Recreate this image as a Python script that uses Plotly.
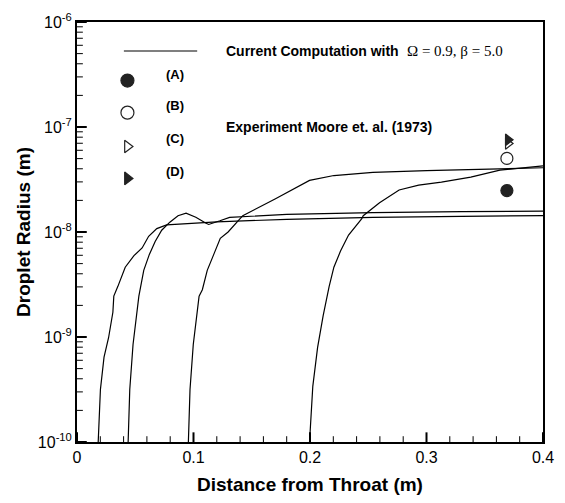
import plotly.graph_objects as go

# Computed droplet radius along the nozzle for four cases (A)-(D)
a_x = [0.0182, 0.0201, 0.0232, 0.0271, 0.0308, 0.0316, 0.035, 0.0414, 0.0489, 0.0559, 0.0615, 0.0685, 0.0769, 0.12, 0.18, 0.254, 0.33, 0.4]
a_r = [1e-10, 3.16e-10, 6.44e-10, 9.84e-10, 1.72e-9, 2.45e-9, 3.02e-9, 4.62e-9, 5.95e-9, 7.05e-9, 9.10e-9, 1.077e-8, 1.17e-8, 1.25e-8, 1.32e-8, 1.38e-8, 1.41e-8, 1.43e-8]

b_x = [0.0439, 0.0453, 0.0481, 0.0509, 0.0531, 0.0573, 0.0621, 0.0671, 0.0727, 0.0797, 0.0867, 0.0936, 0.102, 0.1104, 0.113, 0.1227, 0.131, 0.18, 0.254, 0.33, 0.4]
b_r = [1e-10, 3.16e-10, 8.49e-10, 1.60e-9, 2.45e-9, 4.31e-9, 6.12e-9, 8.13e-9, 1.04e-8, 1.24e-8, 1.43e-8, 1.51e-8, 1.38e-8, 1.22e-8, 1.18e-8, 1.28e-8, 1.38e-8, 1.47e-8, 1.53e-8, 1.56e-8, 1.58e-8]

c_x = [0.0956, 0.097, 0.0998, 0.1029, 0.1048, 0.1076, 0.1118, 0.1174, 0.123, 0.1297, 0.1423, 0.170, 0.1996, 0.2205, 0.254, 0.30, 0.363, 0.4]
c_r = [1e-10, 3.16e-10, 8.49e-10, 1.60e-9, 2.45e-9, 2.82e-9, 4.31e-9, 6.12e-9, 8.71e-9, 1.00e-8, 1.43e-8, 2.06e-8, 3.10e-8, 3.45e-8, 3.70e-8, 3.85e-8, 3.98e-8, 4.09e-8]

d_x = [0.1996, 0.2024, 0.2065, 0.2113, 0.2164, 0.2205, 0.2262, 0.2331, 0.2443, 0.2457, 0.2597, 0.2765, 0.2933, 0.3128, 0.338, 0.363, 0.4]
d_r = [1e-10, 3.39e-10, 7.91e-10, 1.60e-9, 3.02e-9, 4.62e-9, 6.58e-9, 9.35e-9, 1.33e-8, 1.43e-8, 1.90e-8, 2.51e-8, 2.79e-8, 2.99e-8, 3.33e-8, 3.89e-8, 4.26e-8]

# Measured values, Moore et al. (1973)
exp_x = [0.369, 0.369, 0.370, 0.370]
exp_r = [2.48e-8, 5.02e-8, 6.98e-8, 7.55e-8]
exp_symbols = ["circle", "circle-open", "triangle-right-open", "triangle-right"]
exp_sizes = [12, 12, 10, 10]

curve_names = ["(A)", "(B)", "(C)", "(D)"]
curve_label_x = [0.0277, 0.0755, 0.120, 0.2273]
curve_label_r = [5.47e-9, 4.15e-9, 2.5e-9, 1.22e-9]

# Key symbols sit in the upper-left corner of the axes
key_x = 0.0433
key_r = [2.77e-7, 1.37e-7, 6.52e-8, 3.24e-8]

x_ticks = [0, 0.1, 0.2, 0.3, 0.4]
x_tick_text = ["0", "0.1", "0.2", "0.3", "0.4"]
x_minor = [0.02, 0.04, 0.06, 0.08, 0.12, 0.14, 0.16, 0.18, 0.22, 0.24, 0.26, 0.28,
           0.32, 0.34, 0.36, 0.38]
y_exponents = [-10, -9, -8, -7, -6]
y_major = [10.0 ** e for e in y_exponents]
y_minor = [m * 10.0 ** e for e in y_exponents[:-1] for m in range(2, 10)]

# Axis ranges and plot-area size, used to turn tick lengths in pixels into data units
X_RANGE = (0.0, 0.4)
LOGY_RANGE = (-10, -6)
WIDTH, HEIGHT = 565, 503
MARGIN = dict(l=77, r=11, t=16, b=52)
plot_w = WIDTH - MARGIN["l"] - MARGIN["r"]
plot_h = HEIGHT - MARGIN["t"] - MARGIN["b"]


def x_len(px):
    return px * (X_RANGE[1] - X_RANGE[0]) / plot_w


def y_up(px):
    return 10.0 ** (LOGY_RANGE[0] + px * (LOGY_RANGE[1] - LOGY_RANGE[0]) / plot_h)


ink = "#222222"
fig = go.Figure()

for xs, rs in [(a_x, a_r), (b_x, b_r), (c_x, c_r), (d_x, d_r)]:
    fig.add_trace(go.Scatter(x=xs, y=rs, mode="lines", line=dict(color="black", width=1.2),
                             showlegend=False, hoverinfo="skip"))

for xv, rv, sym, sz in zip(exp_x, exp_r, exp_symbols, exp_sizes):
    fig.add_trace(go.Scatter(x=[xv], y=[rv], mode="markers", showlegend=False,
                             marker=dict(symbol=sym, size=sz, color=ink,
                                         line=dict(color=ink, width=1.2))))

for kr, sym, sz in zip(key_r, exp_symbols, exp_sizes):
    fig.add_trace(go.Scatter(x=[key_x], y=[kr], mode="markers", showlegend=False,
                             hoverinfo="skip",
                             marker=dict(symbol=sym, size=sz + 1, color=ink,
                                         line=dict(color=ink, width=1.2))))


# Inward tick marks along the bottom and left axes
def bottom_ticks(values, length_px, width):
    xs, ys = [], []
    for v in values:
        xs += [v, v, None]
        ys += [y_major[0], y_up(length_px), None]
    fig.add_trace(go.Scatter(x=xs, y=ys, mode="lines", showlegend=False, hoverinfo="skip",
                             line=dict(color="black", width=width)))


def left_ticks(values, length_px, width):
    xs, ys = [], []
    for v in values:
        xs += [X_RANGE[0], X_RANGE[0] + x_len(length_px), None]
        ys += [v, v, None]
    fig.add_trace(go.Scatter(x=xs, y=ys, mode="lines", showlegend=False, hoverinfo="skip",
                             line=dict(color="black", width=width)))


bottom_ticks(x_minor, 6, 1)
bottom_ticks(x_ticks, 10, 2)
left_ticks(y_minor, 6, 1)
left_ticks(y_major, 10, 2)

shapes = [dict(type="line", xref="paper", yref="paper", x0=0.1006, x1=0.2579, y0=0.931, y1=0.931,
               line=dict(color="black", width=1.2))]

sans = "Liberation Sans, Arial"
annotations = [
    dict(x=0.316, y=0.931, xref="paper", yref="paper", xanchor="left", yanchor="middle",
         text="<b>Current Computation with</b>", showarrow=False,
         font=dict(family=sans, size=14, color="black")),
    dict(x=0.703, y=0.931, xref="paper", yref="paper", xanchor="left", yanchor="middle",
         text="Ω = 0.9, β = 5.0", showarrow=False,
         font=dict(family="Liberation Serif, Times New Roman", size=15, color="black")),
    dict(x=0.316, y=0.749, xref="paper", yref="paper", xanchor="left", yanchor="middle",
         text="<b>Experiment Moore et. al. (1973)</b>", showarrow=False,
         font=dict(family=sans, size=14, color="black")),
]
key_label_y = [0.874, 0.800, 0.722, 0.644]
for name, ly in zip(curve_names, key_label_y):
    annotations.append(dict(x=0.210, y=ly, xref="paper", yref="paper", xanchor="center",
                            yanchor="middle", text="<b>" + name + "</b>", showarrow=False,
                            font=dict(family=sans, size=13, color="black")))
for name, lx, lr in zip(curve_names, curve_label_x, curve_label_r):
    annotations.append(dict(x=lx, y=lr, xref="x", yref="y", xanchor="center", yanchor="middle",
                            text="<b>" + name + "</b>", showarrow=False,
                            font=dict(family=sans, size=13, color="black")))

fig.update_layout(
    width=WIDTH, height=HEIGHT,
    margin=MARGIN,
    paper_bgcolor="white", plot_bgcolor="white",
    font=dict(family=sans, size=16, color="black"),
    annotations=annotations,
    shapes=shapes,
    xaxis=dict(
        range=list(X_RANGE), tickmode="array", tickvals=x_ticks, ticktext=x_tick_text,
        ticks="",
        showline=True, linewidth=2, linecolor="black", mirror=True,
        showgrid=False, zeroline=False,
        title=dict(text="<b>Distance from Throat (m)</b>", font=dict(size=19), standoff=12),
    ),
    yaxis=dict(
        type="log", range=list(LOGY_RANGE), tickmode="array",
        tickvals=y_major,
        ticktext=["10<sup>%d</sup>" % e for e in y_exponents],
        ticks="",
        showline=True, linewidth=2, linecolor="black", mirror=True,
        showgrid=False, zeroline=False,
        title=dict(text="<b>Droplet Radius (m)</b>", font=dict(size=19), standoff=2),
    ),
)

fig.write_html("out.html")
